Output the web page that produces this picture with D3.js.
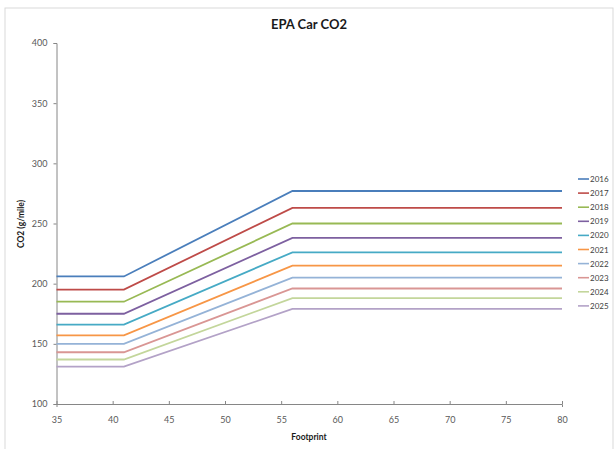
<!DOCTYPE html>
<html>
<head>
<meta charset="utf-8">
<script src="https://cdn.jsdelivr.net/npm/d3@7"></script>
<style>
  body { margin: 0; background: #fff; }
  text { font-family: Lato, 'Open Sans', sans-serif; }
  .tick text { fill: #595959; font-size: 9px; }
  .tick line, .domain { stroke: #868686; }
</style>
</head>
<body>
<div id="chart"></div>
<script>
// footprint break points (sq ft)
var footprints = [35, 41, 56, 80];
var years = ['2016', '2017', '2018', '2019', '2020', '2021', '2022', '2023', '2024', '2025'];
// CO2 target at small (<=41) and large (>=56) footprint
var lowCO2 = [206, 195, 185, 175, 166, 157, 150, 143, 137, 131];
var highCO2 = [277, 263, 250, 238, 226, 215, 205, 196, 188, 179];
var xTicks = [35, 40, 45, 50, 55, 60, 65, 70, 75, 80];
var yTicks = [100, 150, 200, 250, 300, 350, 400];
var colors = ['#4a7ebb', '#be4b48', '#98b954', '#7d60a0', '#46aac5', '#f79646', '#95b3d7', '#d99694', '#c3d69b', '#b3a2c7'];

var width = 615, height = 449;

var svg = d3.select('#chart')
    .append('svg')
    .attr('width', width)
    .attr('height', height);

// chart frame
svg.append('rect')
    .attr('x', 5).attr('y', 8)
    .attr('width', width - 7).attr('height', height)
    .attr('fill', '#fff')
    .attr('stroke', '#d9d9d9');

var xScale = d3.scaleLinear().domain([35, 80]).range([56.5, 562]);
var yScale = d3.scaleLinear().domain([100, 400]).range([404, 43]);

svg.append('g')
    .attr('transform', 'translate(0,404)')
    .call(d3.axisBottom(xScale).tickValues(xTicks).tickSize(3).tickPadding(10))
    .call(g => g.selectAll('.tick line').attr('y2', -3));

svg.append('g')
    .attr('transform', 'translate(56.5,0)')
    .call(d3.axisLeft(yScale).tickValues(yTicks).tickSize(3).tickPadding(6));

var line = d3.line()
    .x(d => xScale(d[0]))
    .y(d => yScale(d[1]));

years.forEach(function (yr, i) {
    var pts = footprints.map(f => [f, f <= 41 ? lowCO2[i] : highCO2[i]]);
    svg.append('path')
        .datum(pts)
        .attr('d', line)
        .attr('fill', 'none')
        .attr('stroke', colors[i])
        .attr('stroke-width', 1.8);

    var ly = 179 + i * 14.1;
    svg.append('line')
        .attr('x1', 578).attr('x2', 589)
        .attr('y1', ly).attr('y2', ly)
        .attr('stroke', colors[i])
        .attr('stroke-width', 1.6);
    svg.append('text')
        .attr('x', 590).attr('y', ly + 3)
        .attr('font-size', 8)
        .attr('fill', '#404040')
        .text(yr);
});

svg.append('text')
    .attr('x', 309).attr('y', 29)
    .attr('text-anchor', 'middle')
    .attr('font-size', 13)
    .attr('font-weight', 'bold')
    .attr('fill', '#1a1a1a')
    .text('EPA Car CO2');

svg.append('text')
    .attr('x', 309).attr('y', 440)
    .attr('text-anchor', 'middle')
    .attr('font-size', 8.5)
    .attr('font-weight', 'bold')
    .attr('fill', '#1a1a1a')
    .text('Footprint');

svg.append('text')
    .attr('transform', 'translate(24,224)rotate(-90)')
    .attr('text-anchor', 'middle')
    .attr('font-size', 8.5)
    .attr('font-weight', 'bold')
    .attr('fill', '#1a1a1a')
    .text('CO2 (g/mile)');
</script>
</body>
</html>
